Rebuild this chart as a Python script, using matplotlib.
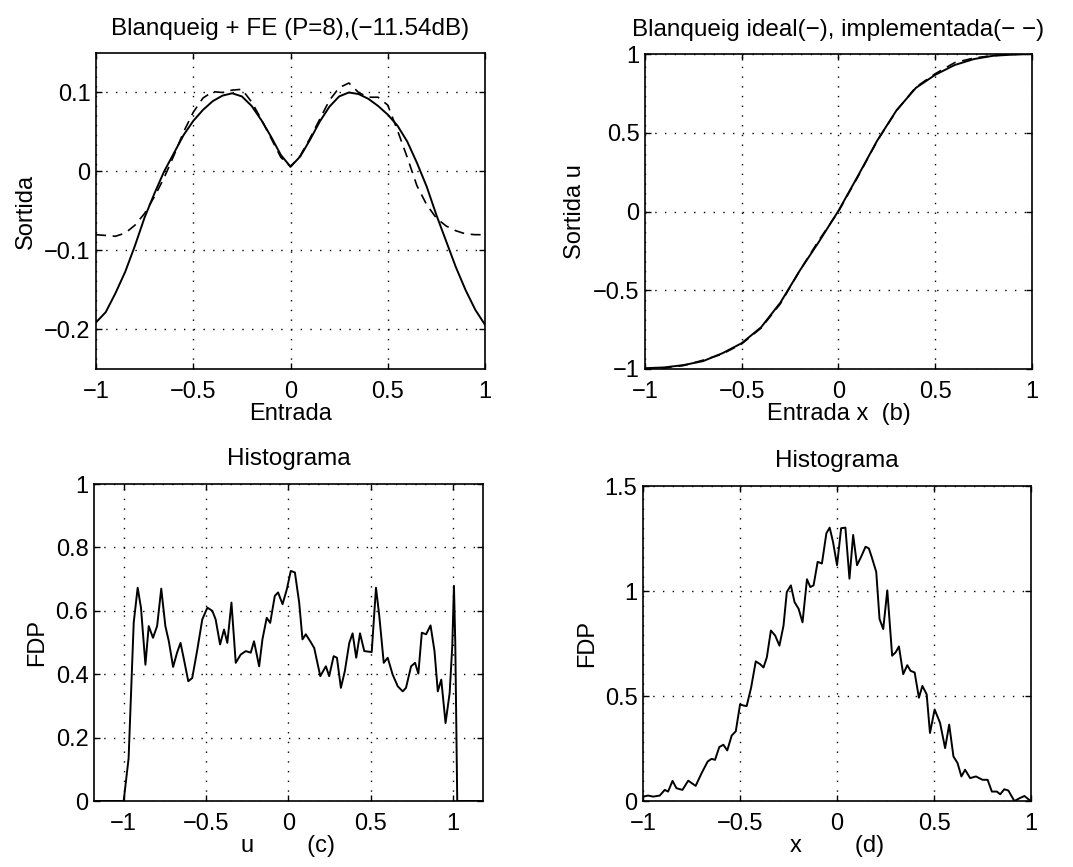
import matplotlib
matplotlib.use('Agg')
import matplotlib.pyplot as plt
import numpy as np

plt.rcParams['font.family'] = ['Liberation Sans', 'DejaVu Sans']
plt.rcParams['font.size'] = 17
plt.rcParams['axes.titlesize'] = 17.5

### (a) Blanqueig + FE: ideal (solid) and polinomi P=8 (dashed)
xa = [-1.0, -0.95, -0.9, -0.85, -0.8, -0.75, -0.7, -0.65, -0.6, -0.55, -0.5,
      -0.45, -0.4, -0.35, -0.3, -0.25, -0.2, -0.15, -0.1, -0.05, 0.0,
      0.05, 0.1, 0.15, 0.2, 0.25, 0.3, 0.35, 0.4, 0.45, 0.5,
      0.55, 0.6, 0.65, 0.7, 0.75, 0.8, 0.85, 0.9, 0.95, 1.0]
ya_ideal = [-0.191, -0.178, -0.154, -0.127, -0.094, -0.058, -0.028, 0.0, 0.023, 0.046, 0.064,
            0.078, 0.089, 0.096, 0.099, 0.095, 0.083, 0.065, 0.044, 0.021, 0.006,
            0.019, 0.040, 0.063, 0.082, 0.095, 0.100, 0.098, 0.092, 0.083, 0.072,
            0.058, 0.038, 0.011, -0.019, -0.055, -0.088, -0.121, -0.150, -0.175, -0.194]
ya_impl = [-0.080, -0.081, -0.082, -0.078, -0.068, -0.053, -0.032, -0.008, 0.020, 0.050, 0.075,
           0.093, 0.101, 0.100, 0.103, 0.104, 0.088, 0.066, 0.042, 0.018, 0.006,
           0.020, 0.042, 0.066, 0.090, 0.106, 0.112, 0.100, 0.094, 0.094, 0.084,
           0.052, 0.018, -0.018, -0.042, -0.059, -0.069, -0.075, -0.079, -0.080, -0.080]

### (b) funcio de blanqueig ideal i implementada
xb = [-1.0, -0.9, -0.8, -0.7, -0.6, -0.5, -0.4, -0.3, -0.2, -0.1, 0.0,
      0.1, 0.2, 0.3, 0.4, 0.5, 0.6, 0.7, 0.8, 0.9, 1.0]
yb_ideal = [-0.995, -0.990, -0.975, -0.950, -0.900, -0.836, -0.735, -0.578, -0.375, -0.190, 0.005,
            0.225, 0.450, 0.643, 0.785, 0.868, 0.930, 0.968, 0.989, 0.996, 1.0]
yb_impl = [-1.0, -0.994, -0.978, -0.944, -0.905, -0.840, -0.740, -0.585, -0.375, -0.180, 0.0,
           0.220, 0.448, 0.640, 0.790, 0.875, 0.945, 0.975, 0.990, 0.998, 1.0]

### (c) histograma de u
xc = [-1.18, -1.0, -0.970, -0.939, -0.915, -0.895, -0.868, -0.848, -0.822, -0.797, -0.772,
      -0.747, -0.726, -0.700, -0.676, -0.655, -0.634, -0.608, -0.584, -0.553, -0.523,
      -0.492, -0.462, -0.442, -0.415, -0.391, -0.371, -0.346, -0.320, -0.290, -0.259,
      -0.229, -0.209, -0.178, -0.158, -0.132, -0.111, -0.083, -0.063, -0.036, -0.010,
      0.014, 0.039, 0.065, 0.085, 0.105, 0.132, 0.156, 0.193, 0.227, 0.247,
      0.274, 0.294, 0.318, 0.342, 0.369, 0.389, 0.411, 0.434, 0.460, 0.505,
      0.531, 0.551, 0.578, 0.602, 0.632, 0.663, 0.693, 0.713, 0.744, 0.768,
      0.788, 0.809, 0.835, 0.862, 0.886, 0.906, 0.927, 0.953, 0.978, 0.994,
      1.004, 1.012, 1.024, 1.18]
yc = [0.0, 0.0, 0.135, 0.563, 0.673, 0.610, 0.430, 0.552, 0.515, 0.552, 0.670,
      0.552, 0.504, 0.423, 0.468, 0.499, 0.446, 0.378, 0.388, 0.478, 0.573,
      0.610, 0.600, 0.573, 0.494, 0.541, 0.499, 0.626, 0.436, 0.462, 0.473,
      0.468, 0.504, 0.425, 0.510, 0.578, 0.562, 0.647, 0.658, 0.621, 0.668,
      0.726, 0.721, 0.626, 0.510, 0.526, 0.504, 0.483, 0.394, 0.425, 0.394,
      0.457, 0.452, 0.357, 0.410, 0.499, 0.529, 0.452, 0.529, 0.473, 0.470,
      0.673, 0.584, 0.436, 0.452, 0.399, 0.362, 0.346, 0.357, 0.425, 0.436,
      0.402, 0.531, 0.526, 0.554, 0.473, 0.346, 0.383, 0.246, 0.341, 0.491,
      0.679, 0.500, 0.0, 0.0]

### (d) histograma de x
xd = [-1.0, -0.974, -0.948, -0.914, -0.888, -0.871, -0.848, -0.828, -0.797, -0.767, -0.729,
      -0.698, -0.667, -0.647, -0.629, -0.607, -0.586, -0.566, -0.543, -0.522, -0.500,
      -0.483, -0.466, -0.443, -0.419, -0.397, -0.379, -0.362, -0.341, -0.319, -0.297,
      -0.276, -0.259, -0.238, -0.219, -0.198, -0.178, -0.155, -0.138, -0.121, -0.100,
      -0.078, -0.055, -0.038, -0.021, 0.0, 0.021, 0.043, 0.064, 0.083, 0.103,
      0.124, 0.147, 0.164, 0.181, 0.202, 0.219, 0.238, 0.259, 0.284, 0.302,
      0.319, 0.341, 0.362, 0.379, 0.400, 0.422, 0.440, 0.462, 0.479, 0.503,
      0.531, 0.557, 0.578, 0.600, 0.621, 0.641, 0.660, 0.686, 0.716, 0.750,
      0.776, 0.798, 0.824, 0.841, 0.862, 0.883, 0.914, 0.940, 0.966, 0.991, 1.0]
yd = [0.021, 0.026, 0.021, 0.026, 0.053, 0.045, 0.096, 0.061, 0.053, 0.097, 0.072,
      0.133, 0.188, 0.201, 0.196, 0.257, 0.268, 0.241, 0.312, 0.332, 0.460,
      0.455, 0.452, 0.540, 0.665, 0.652, 0.636, 0.684, 0.812, 0.788, 0.740,
      0.835, 0.995, 1.027, 0.947, 0.915, 0.851, 1.056, 1.019, 1.027, 1.139,
      1.131, 1.275, 1.302, 1.235, 1.123, 1.299, 1.302, 1.059, 1.267, 1.123,
      1.163, 1.211, 1.203, 1.155, 1.091, 0.867, 0.819, 1.003, 0.692, 0.708,
      0.736, 0.604, 0.647, 0.620, 0.612, 0.492, 0.548, 0.508, 0.324, 0.436,
      0.372, 0.252, 0.364, 0.212, 0.181, 0.117, 0.149, 0.109, 0.117, 0.101,
      0.101, 0.045, 0.045, 0.032, 0.056, 0.050, 0.0, 0.013, 0.024, 0.005, 0.0]

MENYS = '\u2212'


def etiq(vals):
    return [('%g' % v).replace('-', MENYS) for v in vals]


def estil(ax, xt, yt, titol, xlab, ylab, tpad):
    ax.set_xticks(xt)
    ax.set_xticklabels(etiq(xt))
    ax.set_yticks(yt)
    ax.set_yticklabels(etiq(yt))
    ax.set_title(titol, pad=tpad)
    ax.set_xlabel(xlab, labelpad=0)
    ax.set_ylabel(ylab, labelpad=5)
    ax.grid(True, color='k', linestyle=(0, (1, 6)), linewidth=1.0)
    ax.tick_params(direction='in', top=True, right=True, length=4, width=1)
    ax.tick_params(axis='x', pad=8.5)
    ax.tick_params(axis='y', pad=4)
    for s in ax.spines.values():
        s.set_linewidth(1.2)


fig = plt.figure(figsize=(10.73, 8.67), dpi=100)

ax1 = fig.add_axes([0.0895, 0.5744, 0.3625, 0.3645])
ax1.plot(xa, ya_ideal, 'k-', lw=1.4)
ax1.plot(xa, ya_impl, color='k', linestyle=(0, (6, 4)), lw=1.2)
ax1.set_xlim(-1, 1)
ax1.set_ylim(-0.25, 0.15)
estil(ax1, [-1, -0.5, 0, 0.5, 1], [-0.2, -0.1, 0, 0.1],
      'Blanqueig + FE (P=8),(' + MENYS + '11.54dB)', 'Entrada', 'Sortida', 13)

ax2 = fig.add_axes([0.6011, 0.5744, 0.3607, 0.3633])
ax2.plot(xb, yb_ideal, 'k-', lw=1.4)
ax2.plot(xb, yb_impl, color='k', linestyle=(0, (6, 4)), lw=1.2)
ax2.set_xlim(-1, 1)
ax2.set_ylim(-1, 1)
estil(ax2, [-1, -0.5, 0, 0.5, 1], [-1, -0.5, 0, 0.5, 1],
      'Blanqueig ideal(' + MENYS + '), implementada(' + MENYS + ' ' + MENYS + ')',
      'Entrada x  (b)', 'Sortida u', 13)

ax3 = fig.add_axes([0.0876, 0.0761, 0.3625, 0.3656])
ax3.plot(xc, yc, 'k-', lw=1.4)
ax3.set_xlim(-1.18, 1.18)
ax3.set_ylim(0, 1)
estil(ax3, [-1, -0.5, 0, 0.5, 1], [0, 0.2, 0.4, 0.6, 0.8, 1],
      'Histograma', 'u        (c)', 'FDP', 14)

ax4 = fig.add_axes([0.5993, 0.0761, 0.3616, 0.3633])
ax4.plot(xd, yd, 'k-', lw=1.4)
ax4.set_xlim(-1, 1)
ax4.set_ylim(0, 1.5)
estil(ax4, [-1, -0.5, 0, 0.5, 1], [0, 0.5, 1, 1.5],
      'Histograma', 'x        (d)', 'FDP', 14)

plt.savefig('out.png', dpi=100)
